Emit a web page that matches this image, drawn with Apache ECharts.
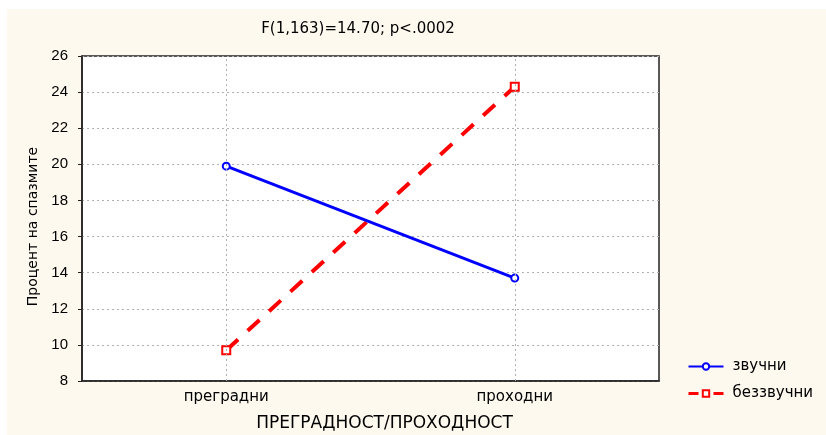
<!DOCTYPE html>
<html>
<head>
<meta charset="utf-8">
<script src="https://cdn.jsdelivr.net/npm/echarts@6/dist/echarts.min.js"></script>
<style>
  html, body { margin: 0; padding: 0; background: #fff; }
  #chart { position: absolute; left: 7px; top: 9px; width: 819px; height: 426px; background: #fdf9ee; }
</style>
</head>
<body>
<div id="chart"></div>
<script>
// data
const categories = ['преградни', 'проходни'];
const voiced = [19.9, 13.7];      // звучни
const voiceless = [9.7, 24.3];    // беззвучни
const yTicks = { min: 8, max: 26, interval: 2 };

const chart = echarts.init(document.getElementById('chart'));
const wide = '"DejaVu Sans", Verdana, sans-serif';
const narrow = '"Liberation Sans", Arial, sans-serif';
const gridLine = { color: '#b0b0b0', type: [2, 3], width: 1 };

const option = {
  animation: false,
  textStyle: { fontFamily: wide },
  title: {
    text: 'F(1,163)=14.70; p<.0002',
    left: 346, top: 8, textAlign: 'center',
    textStyle: { fontSize: 15, fontWeight: 'normal', color: '#000', fontFamily: wide }
  },
  grid: {
    left: 75, top: 47, right: 167, bottom: 54,
    outerBoundsMode: 'none',
    show: true, backgroundColor: '#fff', borderColor: '#222', borderWidth: 1.5
  },
  legend: {
    orient: 'vertical', left: 675, top: 345,
    itemWidth: 35, itemHeight: 8, itemGap: 12,
    textStyle: { fontSize: 15, color: '#000', fontFamily: wide, lineHeight: 14, padding: [0, 0, 0, 4] },
    data: [
      { name: 'звучни' },
      { name: 'беззвучни', lineStyle: { type: [10, 15], width: 3 } }
    ]
  },
  xAxis: {
    type: 'category', data: categories, boundaryGap: true,
    name: 'ПРЕГРАДНОСТ/ПРОХОДНОСТ', nameLocation: 'middle', nameGap: 34,
    nameTextStyle: { fontSize: 17, color: '#000', fontFamily: wide, padding: [0, 0, 0, 28] },
    axisLine: { lineStyle: { color: '#222', width: 1.5 } },
    axisTick: { alignWithLabel: true, length: 4, lineStyle: { color: '#222' } },
    axisLabel: { fontSize: 15, color: '#000', fontFamily: wide, margin: 9 },
    splitLine: { show: false }
  },
  yAxis: {
    type: 'value', min: yTicks.min, max: yTicks.max, interval: yTicks.interval,
    name: 'Процент на спазмите', nameLocation: 'middle', nameGap: 42,
    nameTextStyle: { fontSize: 14, color: '#000', fontFamily: wide, padding: [0, 16, 0, 0] },
    axisLine: { show: true, lineStyle: { color: '#222', width: 1.5 } },
    axisTick: { show: true, length: 4, lineStyle: { color: '#222' } },
    axisLabel: { fontSize: 15, color: '#000', fontFamily: narrow, margin: 14 },
    splitLine: { show: true, lineStyle: gridLine }
  },
  series: [
    {
      name: 'звучни', type: 'line', data: voiced,
      symbol: 'emptyCircle', symbolSize: 7, showSymbol: true,
      color: '#0000ff',
      lineStyle: { color: '#0000ff', width: 3 },
      itemStyle: { color: '#0000ff', borderWidth: 1.5 },
      markLine: {
        silent: true, symbol: 'none', label: { show: false },
        lineStyle: gridLine,
        data: categories.map(c => ({ xAxis: c }))
      },
      z: 3
    },
    {
      name: 'беззвучни', type: 'line', data: voiceless,
      symbol: 'emptyRect', symbolSize: 8, showSymbol: true,
      color: '#ff0000',
      lineStyle: { color: '#ff0000', width: 4, type: [16, 13] },
      itemStyle: { color: '#ff0000', borderWidth: 1.5 },
      z: 2
    }
  ]
};

chart.setOption(option);
</script>
</body>
</html>
